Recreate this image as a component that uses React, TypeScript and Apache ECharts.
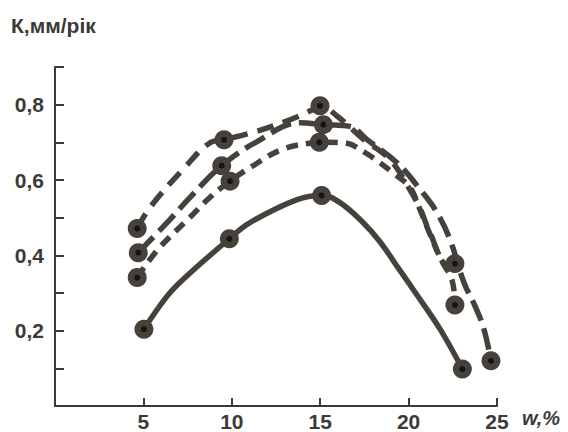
import React, { useEffect, useRef } from "react";
import * as echarts from "echarts";

const INK = "#46423b";
const TEXT = "#3d3a35";

const xTickValues = [5, 10, 15, 20, 25];
const yLabelValues = [0.2, 0.4, 0.6, 0.8];

// series A (solid)
const solidMarkers = [[5.03, 0.204], [9.86, 0.444], [15.08, 0.559], [23.04, 0.098]];
const solidPath = [
  [5.03, 0.204], [6.33, 0.291], [7.24, 0.336], [9.86, 0.444],
  [11.03, 0.487], [13.69, 0.548], [15.08, 0.559], [16.12, 0.54], [17.42, 0.487],
  [18.38, 0.436], [19.51, 0.36], [20.25, 0.31], [21.78, 0.204], [23.04, 0.098],
];

// series B (top dashed)
const topMarkers = [[4.65, 0.471], [9.56, 0.707], [14.99, 0.797], [22.62, 0.378]];
const topPath = [
  [4.65, 0.471], [5.37, 0.527], [7.24, 0.628], [8.77, 0.699], [9.56, 0.707],
  [11.31, 0.728], [13.29, 0.76], [14.59, 0.787], [14.99, 0.797], [16.0, 0.768],
  [17.4, 0.71], [18.95, 0.654], [20.0, 0.58], [20.64, 0.525], [21.2, 0.461],
  [22.2, 0.376], [22.62, 0.378],
];

// series C (middle dashed)
const midMarkers = [[4.71, 0.407], [9.43, 0.638], [15.18, 0.747], [24.66, 0.12]];
const midPath = [
  [4.71, 0.407], [6.5, 0.495], [7.64, 0.554], [9.43, 0.638], [11.43, 0.702],
  [13.86, 0.752], [15.18, 0.747], [16.69, 0.742], [17.65, 0.707], [19.34, 0.646],
  [20.7, 0.572], [21.6, 0.514], [22.34, 0.442], [23.13, 0.328], [23.76, 0.265],
  [24.26, 0.204], [24.66, 0.12],
];

// series D (lower dash-dot)
const lowMarkers = [[4.65, 0.341], [9.9, 0.597], [14.95, 0.7], [22.62, 0.268]];
const lowPath = [
  [4.65, 0.341], [5.83, 0.416], [7.64, 0.501], [8.77, 0.554], [9.9, 0.597],
  [11.14, 0.636], [12.84, 0.681], [14.59, 0.699], [14.95, 0.7], [16.29, 0.699],
  [17.53, 0.673], [19.23, 0.615], [20.08, 0.58], [20.64, 0.522], [21.21, 0.456],
  [21.89, 0.384], [22.45, 0.336], [22.62, 0.268],
];

const allMarkers = [...solidMarkers, ...topMarkers, ...midMarkers, ...lowMarkers];

function lineSeries(data: number[][], type: any) {
  return {
    type: "line",
    data,
    smooth: 0.4,
    symbol: "none",
    lineStyle: { color: INK, width: 5.5, type, cap: "butt" },
    z: 2,
  };
}

export default function App() {
  const ref = useRef<HTMLDivElement>(null);
  useEffect(() => {
    if (!ref.current) return;
    const chart = echarts.init(ref.current, undefined, { renderer: "svg" });
    const labelFont = {
      color: TEXT,
      fontFamily: "Liberation Sans, Arial, sans-serif",
      fontWeight: "bold" as const,
      fontSize: 21,
    };
    chart.setOption({
      animation: false,
      backgroundColor: "#ffffff",
      grid: { left: 55, right: 71, top: 67, bottom: 25, containLabel: false },
      xAxis: {
        type: "value",
        min: 0,
        max: 25,
        interval: 5,
        splitLine: { show: false },
        axisLine: { show: true, lineStyle: { color: TEXT, width: 2 } },
        axisTick: { show: true, inside: true, length: 8, lineStyle: { color: TEXT, width: 2 } },
        axisLabel: {
          ...labelFont,
          margin: 5,
          formatter: (v: number) => (xTickValues.includes(v) ? String(v) : ""),
        },
      },
      yAxis: {
        type: "value",
        min: 0,
        max: 0.9,
        interval: 0.1,
        splitLine: { show: false },
        axisLine: { show: true, lineStyle: { color: TEXT, width: 2 } },
        axisTick: { show: true, inside: true, length: 9, lineStyle: { color: TEXT, width: 2 } },
        axisLabel: {
          ...labelFont,
          margin: 11,
          formatter: (v: number) => {
            const r = Math.round(v * 10) / 10;
            return yLabelValues.some((t) => Math.abs(t - r) < 1e-6) ? r.toFixed(1).replace(".", ",") : "";
          },
        },
      },
      series: [
        lineSeries(solidPath, "solid"),
        lineSeries(topPath, [17, 10]),
        lineSeries(midPath, [22, 8]),
        lineSeries(lowPath, [12, 8]),
        {
          type: "scatter",
          data: allMarkers,
          symbol: "circle",
          symbolSize: 19,
          itemStyle: { color: INK, opacity: 1 },
          z: 3,
        },
        {
          type: "scatter",
          data: allMarkers,
          symbol: "circle",
          symbolSize: 6,
          itemStyle: { color: "#141414", opacity: 1 },
          z: 4,
        },
      ],
      graphic: [
        {
          type: "text",
          left: 11,
          top: 15,
          style: {
            text: "К,мм/рік",
            fill: TEXT,
            font: "bold 21px Liberation Sans, Arial, sans-serif",
          },
        },
        {
          type: "text",
          left: 522,
          top: 408,
          style: {
            text: "w,%",
            fill: TEXT,
            font: "italic bold 20px Liberation Sans, Arial, sans-serif",
          },
        },
      ],
    });
    return () => chart.dispose();
  }, []);
  return (
    <div
      ref={ref}
      style={{ position: "fixed", left: 0, top: 0, width: 568, height: 432, background: "#fff" }}
    />
  );
}
